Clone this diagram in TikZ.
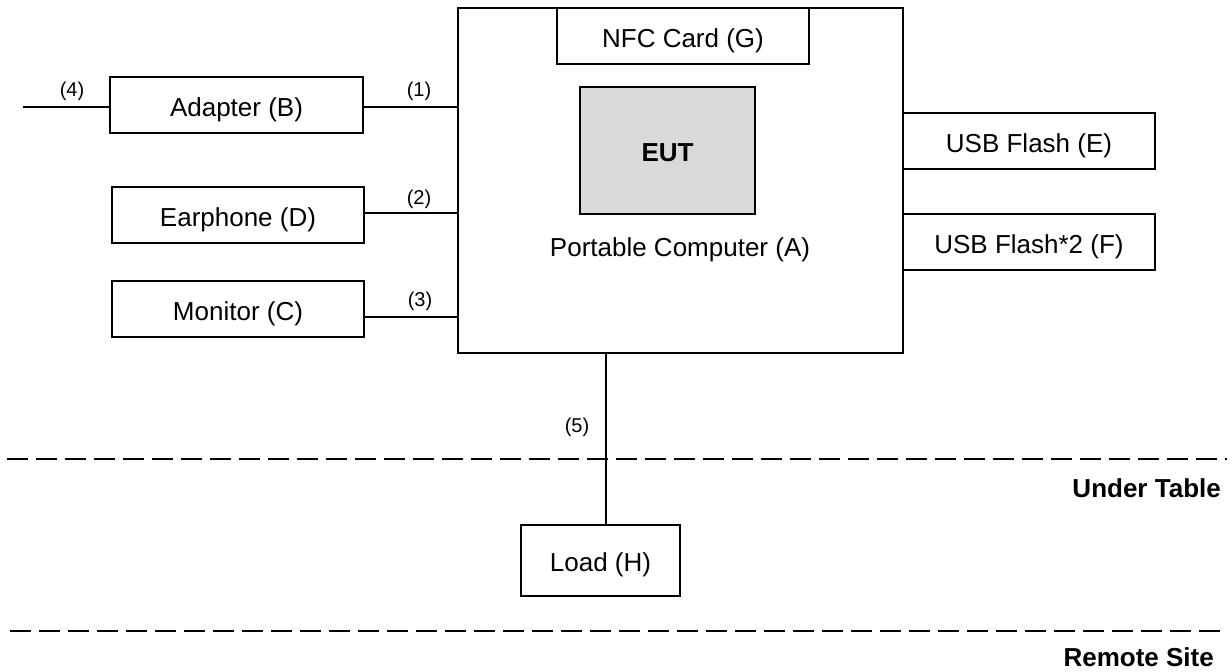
\documentclass[tikz,border=0pt]{standalone}
\usepackage{fontspec}
\setmainfont{Liberation Sans}
\tikzset{
  box/.style={draw, line width=1.6pt, inner sep=0pt, text height=22.6pt, text depth=0pt, font=\fontsize{26}{30}\selectfont},
  lbl/.style={inner sep=0pt, font=\fontsize{20}{24}\selectfont},
  conn/.style={line width=1.6pt},
  sep/.style={line width=2.3pt, dash pattern=on 21pt off 8pt},
  zone/.style={inner sep=0pt, font=\bfseries\fontsize{26}{30}\selectfont, anchor=east}
}
\begin{document}
\begin{tikzpicture}[x=1pt,y=-1pt]
\useasboundingbox (0,0) rectangle (1232,672);
% main computer
\node[box, minimum width=445pt, minimum height=345pt] (main) at (680.5,180.5) {};
\node[box, fill=white, minimum width=252pt, minimum height=56pt] (nfc) at (683,36) {NFC Card (G)};
\node[box, fill=black!15, minimum width=175pt, minimum height=127pt, font=\bfseries\fontsize{26}{30}\selectfont] (eut) at (667.5,150.5) {EUT};
\node[inner sep=0pt, font=\fontsize{26}{30}\selectfont] (pc) at (680,249.5) {Portable Computer (A)};
% left peripherals
\node[box, minimum width=253pt, minimum height=56pt] (adapter) at (236.5,105) {Adapter (B)};
\node[box, minimum width=252pt, minimum height=56pt] (earphone) at (238,215) {Earphone (D)};
\node[box, minimum width=252pt, minimum height=56pt] (monitor) at (238,309) {Monitor (C)};
% right peripherals
\node[box, minimum width=252pt, minimum height=56pt] (usbe) at (1029,141) {USB Flash (E)};
\node[box, minimum width=252pt, minimum height=56pt] (usbf) at (1029,242) {USB Flash*2 (F)};
% load
\node[box, minimum width=159pt, minimum height=71pt] (load) at (600.5,560.5) {Load (H)};
% connectors
\coordinate (plug) at (23,107);
\draw[conn] (plug) -- (plug -| adapter.west);
\draw[conn] (adapter.east |- 0,107) -- (main.west |- 0,107);
\draw[conn] (earphone.east |- 0,213) -- (main.west |- 0,213);
\draw[conn] (monitor.east |- 0,317) -- (main.west |- 0,317);
\draw[conn] (main.south -| 606,0) -- (load.north -| 606,0);
% labels
\node[lbl] (l1) at (419,91) {(1)};
\node[lbl] (l2) at (419,199) {(2)};
\node[lbl] (l3) at (420,301) {(3)};
\node[lbl] (l4) at (72,91) {(4)};
\node[lbl] (l5) at (577,427) {(5)};
% separators
\coordinate (s1a) at (7,459);
\coordinate (s1b) at (1227,459);
\coordinate (s2a) at (10,631);
\coordinate (s2b) at (1227,631);
\draw[sep] (s1a) -- (s1b);
\draw[sep] (s2a) -- (s2b);
\node[zone] (under) at (1221,488.5) {Under Table};
\node[zone] (remote) at (1214,657.5) {Remote Site};
\end{tikzpicture}
\end{document}
